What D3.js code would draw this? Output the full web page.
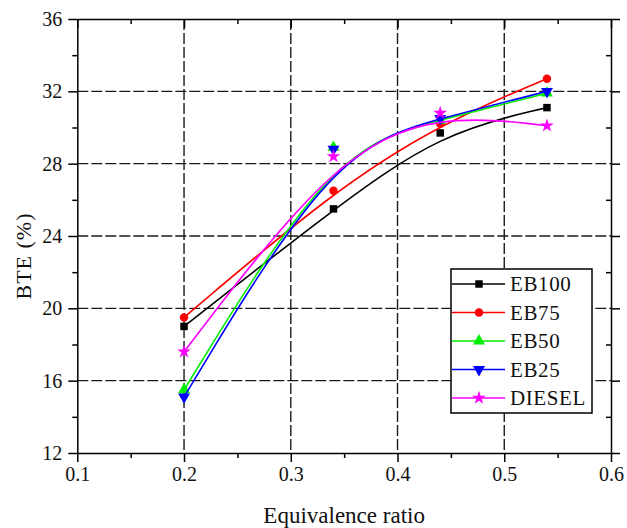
<!DOCTYPE html>
<html>
<head>
<meta charset="utf-8">
<script src="https://cdn.jsdelivr.net/npm/d3@7"></script>
<style>
    body { margin: 0; background: #fff; }
    .grid line { stroke: #1a1a1a; stroke-width: 1.4; stroke-dasharray: 11, 3; }
    .axis path, .axis line { stroke: #000; stroke-width: 1.5; }
</style>
</head>
<body>
<div id="chart"></div>
<script>
// 数据
const xTicks = [0.1, 0.2, 0.3, 0.4, 0.5, 0.6];
const yTicks = [12, 16, 20, 24, 28, 32, 36];
const ratio = [0.2, 0.34, 0.44, 0.54];
const eb100 = [19.0, 25.5, 29.7, 31.1];
const eb75 = [19.5, 26.5, 30.2, 32.7];
const eb50 = [15.5, 28.9, 30.4, 31.9];
const eb25 = [15.1, 28.8, 30.5, 32.0];
const diesel = [17.6, 28.4, 30.8, 30.1];
const seriesNames = ['EB100', 'EB75', 'EB50', 'EB25', 'DIESEL'];
const seriesValues = [eb100, eb75, eb50, eb25, diesel];

const FONT = 'Liberation Serif, Times New Roman, Times, DejaVu Serif, serif';
const colors = ['#000000', '#ff0000', '#00ee00', '#0000ff', '#ff00ff'];
const symbols = [
    { type: d3.symbolSquare, size: 56, rotate: 0 },
    { type: d3.symbolCircle, size: 56, rotate: 0 },
    { type: d3.symbolTriangle, size: 62, rotate: 0 },
    { type: d3.symbolTriangle, size: 62, rotate: 180 },
    { type: d3.symbolStar, size: 58, rotate: 0 }
];

const W = 627, H = 528;
const plot = { left: 77.3, right: 611, top: 19, bottom: 453 };

const svg = d3.select('#chart').append('svg')
    .attr('width', W)
    .attr('height', H)
    .attr('font-family', FONT)
    .style('display', 'block');

const x = d3.scaleLinear().domain([0.1, 0.6]).range([plot.left, plot.right]);
const y = d3.scaleLinear().domain([12, 36]).range([plot.bottom, plot.top]);

// 网格线
let grid = svg.append('g').attr('class', 'grid');
grid.selectAll('line.gx')
    .data(xTicks.slice(1, -1))
    .enter().append('line')
    .attr('class', 'gx')
    .attr('x1', d => x(d)).attr('x2', d => x(d))
    .attr('y1', plot.top).attr('y2', plot.bottom);
grid.selectAll('line.gy')
    .data(yTicks.slice(1, -1))
    .enter().append('line')
    .attr('class', 'gy')
    .attr('y1', d => y(d)).attr('y2', d => y(d))
    .attr('x1', plot.left).attr('x2', plot.right);

// 坐标轴
const xMinor = d3.range(0.15, 0.6, 0.1);
const yMinor = d3.range(14, 36, 4);

function drawAxis(axis, minorAxis, transform) {
    let g = svg.append('g').attr('class', 'axis').attr('transform', transform);
    g.call(axis);
    g.append('g').call(minorAxis).call(s => s.select('.domain').remove());
    // d3 axis 默认 sans-serif，改回衬线体
    g.attr('font-family', FONT).attr('font-size', 20);
    g.selectAll('text').attr('fill', '#111');
    return g;
}

drawAxis(d3.axisBottom(x).tickValues(xTicks).tickSize(9).tickPadding(5).tickSizeOuter(0)
        .tickFormat(d3.format('.1f')),
    d3.axisBottom(x).tickValues(xMinor).tickSize(5).tickFormat(''),
    'translate(0,' + plot.bottom + ')');
drawAxis(d3.axisLeft(y).tickValues(yTicks).tickSize(9).tickPadding(6).tickSizeOuter(0),
    d3.axisLeft(y).tickValues(yMinor).tickSize(5).tickFormat(''),
    'translate(' + plot.left + ',0)');
drawAxis(d3.axisBottom(x).tickValues(xTicks).tickSize(9).tickSizeOuter(0).tickFormat(''),
    d3.axisBottom(x).tickValues(xMinor).tickSize(5).tickFormat(''),
    'translate(0,' + plot.top + ')');
drawAxis(d3.axisLeft(y).tickValues(yTicks).tickSize(-9).tickSizeOuter(0).tickFormat(''),
    d3.axisLeft(y).tickValues(yMinor).tickSize(5).tickFormat(''),
    'translate(' + plot.right + ',0)');

// 坐标轴标题
svg.append('text')
    .attr('x', (plot.left + plot.right) / 2)
    .attr('y', 523)
    .attr('text-anchor', 'middle')
    .attr('font-size', 23)
    .attr('fill', '#111')
    .text('Equivalence ratio');

svg.append('text')
    .attr('transform', 'translate(31,256) rotate(-90)')
    .attr('text-anchor', 'middle')
    .attr('font-size', 22)
    .attr('letter-spacing', 1)
    .attr('fill', '#111')
    .text('BTE (%)');

// 曲线与符号
const line = d3.line()
    .x((d, i) => x(ratio[i]))
    .y(d => y(d))
    .curve(d3.curveBasis);

seriesValues.forEach(function(vals, k) {
    let g = svg.append('g').attr('class', 'series');
    g.append('path')
        .attr('d', line(vals))
        .attr('fill', 'none')
        .attr('stroke', colors[k])
        .attr('stroke-width', 1.6);
    g.selectAll('path.marker')
        .data(vals)
        .enter().append('path')
        .attr('class', 'marker')
        .attr('d', d3.symbol().type(symbols[k].type).size(symbols[k].size))
        .attr('transform', (d, i) => 'translate(' + x(ratio[i]) + ',' + y(d) + ') rotate(' + symbols[k].rotate + ')')
        .attr('fill', colors[k]);
});

// 图例
const legend = { left: 451, top: 269, width: 141, height: 144, row: 28.5 };
let lg = svg.append('g').attr('class', 'legend');
lg.append('rect')
    .attr('x', legend.left).attr('y', legend.top)
    .attr('width', legend.width).attr('height', legend.height)
    .attr('fill', '#fff')
    .attr('stroke', '#000')
    .attr('stroke-width', 1.5);
let items = lg.selectAll('g.item')
    .data(seriesNames)
    .enter().append('g')
    .attr('class', 'item')
    .attr('transform', (d, i) => 'translate(' + legend.left + ',' + (legend.top + 15 + i * legend.row) + ')');
items.append('line')
    .attr('x1', 1).attr('x2', 54)
    .attr('stroke', (d, i) => colors[i])
    .attr('stroke-width', 1.6);
items.append('path')
    .attr('d', (d, i) => d3.symbol().type(symbols[i].type).size(symbols[i].size)())
    .attr('transform', (d, i) => 'translate(28,0) rotate(' + symbols[i].rotate + ')')
    .attr('fill', (d, i) => colors[i]);
items.append('text')
    .attr('x', 59)
    .attr('dy', '0.34em')
    .attr('font-size', 21)
    .attr('letter-spacing', 0.6)
    .attr('fill', '#111')
    .text(d => d);
</script>
</body>
</html>
